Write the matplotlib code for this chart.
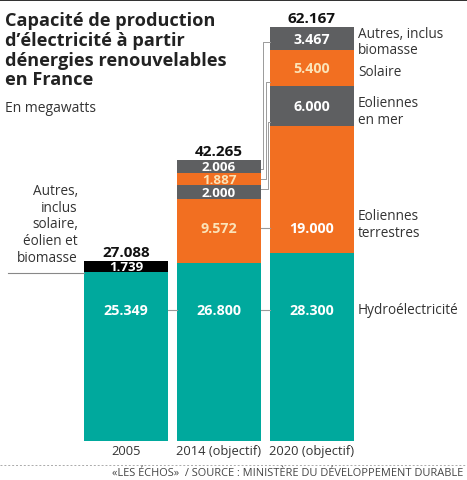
import matplotlib
matplotlib.use("Agg")
import matplotlib.pyplot as plt
from matplotlib.lines import Line2D
from matplotlib.patches import Rectangle

plt.rcParams['font.family'] = ['Open Sans', 'DejaVu Sans']

# data (MW)
years = ["2005", "2014 (objectif)", "2020 (objectif)"]
hydro = [25349, 26800, 28300]
autres_2005 = [1739, 0, 0]
eol_terre = [0, 9572, 19000]
eol_mer = [0, 2000, 6000]
solaire = [0, 1887, 5400]
autres = [0, 2006, 3467]
totals = ["27.088", "42.265", "62.167"]

TEAL = "#00a99d"
ORANGE = "#f26f21"
GREY = "#5e5f61"
BLACK = "#000000"
CREAM = "#fbe3b8"

W, H = 467, 481
fig = plt.figure(figsize=(W / 100, H / 100), dpi=100)

# axes placed in pixel units: bars from x=84 to x=354, baseline at y=442, top at y=28
ax = fig.add_axes([84 / W, (H - 442) / H, 270 / W, 414 / H])
ymax = sum(v[2] for v in [hydro, eol_terre, eol_mer, solaire, autres])
ax.set_ylim(0, ymax)
bw = 84 / 93
ax.set_xlim(-bw / 2, 2 + bw / 2)
ax.axis("off")
px = ymax / 414  # data units per pixel


def fmt(v):
    return f"{v:,}".replace(",", ".")


x = [0, 1, 2]
stack = [hydro, autres_2005, eol_terre, eol_mer, solaire, autres]
colors = [TEAL, BLACK, ORANGE, GREY, ORANGE, GREY]
txtcol = ["white", "white", None, "white", CREAM, "white"]
y_hydro = (442 - 311) * px
y_terre = (442 - 229) * px
bottoms = [0, 0, 0]
seg = {}
for k, (vals, c) in enumerate(zip(stack, colors)):
    ax.bar(x, vals, bottom=bottoms, width=bw, color=c, linewidth=0)
    for i, v in enumerate(vals):
        if v == 0:
            continue
        mid = bottoms[i] + v / 2
        seg[(k, i)] = (bottoms[i], bottoms[i] + v)
        tc = txtcol[k]
        if k == 0:
            mid = y_hydro
        if k == 2:
            tc = CREAM if i == 1 else "white"
            mid = y_terre
        fs = 10.3 if v > 3000 else 9.6
        ax.text(i, mid, fmt(v), ha="center", va="center", color=tc,
                fontsize=fs, fontweight="bold")
    bottoms = [b + v for b, v in zip(bottoms, vals)]

# totals above bars
for i, t in enumerate(totals):
    ax.text(i, bottoms[i] + 300, t, ha="center", va="bottom", fontsize=11,
            fontweight="bold", color="#111111", clip_on=False)

# horizontal connectors across gaps
lc = "#9a9a9a"
for i in range(2):
    ax.plot([i + bw / 2, i + 1 - bw / 2], [y_hydro] * 2,
            color=lc, lw=0.8, clip_on=False)
ax.plot([1 + bw / 2, 2 - bw / 2], [y_terre] * 2, color=lc, lw=0.8, clip_on=False)

# bracket connectors between 2014 small segments and 2020 segments
gap = 1 - bw
for k, frac_x, f14, f20 in [(5, 0.2, 0.3, 0.35), (4, 0.5, 0.5, 0.12), (3, 0.8, 0.7, 0.1)]:
    lo14, hi14 = seg[(k, 1)]
    lo20, hi20 = seg[(k, 2)]
    y14 = lo14 + (hi14 - lo14) * f14
    y20 = lo20 + (hi20 - lo20) * f20
    xm = 1 + bw / 2 + gap * frac_x
    ax.plot([1 + bw / 2, xm, xm, 2 - bw / 2], [y14, y14, y20, y20],
            color=lc, lw=0.7, clip_on=False)

# right-hand labels
xr = 2 + bw / 2 + 4 / 93
right_labels = [
    (5, "Autres, inclus\nbiomasse", None),
    (4, "Solaire", None),
    (3, "Eoliennes\nen mer", (442 - 112) * px),
    (2, "Eoliennes\nterrestres", (442 - 225) * px),
    (0, "Hydroélectricité", y_hydro),
]
for k, lab, yy in right_labels:
    lo, hi = seg[(k, 2)]
    if yy is None:
        yy = (lo + hi) / 2 - 3 * px
    ax.text(xr, yy, lab, ha="left", va="center", fontsize=9.8,
            color="#333333", linespacing=1.15, clip_on=False)

# left label for 2005 others
ax.text(-bw / 2 - 6 / 93, seg[(1, 0)][1] - 4 * px,
        "Autres,\ninclus\nsolaire,\néolien et\nbiomasse", ha="right", va="bottom",
        fontsize=9.8, color="#333333", linespacing=1.15, clip_on=False)
ax.plot([-bw / 2 - 76 / 93, -bw / 2], [seg[(1, 0)][1] - 12 * px] * 2,
        color="#888888", lw=0.8, clip_on=False)

# year labels
for i, yr in enumerate(years):
    ax.text(i, -3 * px, yr, ha="center", va="top", fontsize=9.3, color="#333333",
            clip_on=False)

# title block
fig.add_artist(Rectangle((0, 1 - 2 / H), 1, 2 / H, transform=fig.transFigure,
                         color="#333333", lw=0))
fig.text(5 / W, 1 - 12 / H, "Capacité de production\nd\u2019électricité à partir\n"
         "dénergies renouvelables\nen France", ha="left", va="top",
         fontsize=13.1, fontweight="bold", color="#222222", linespacing=1.13)
fig.text(5 / W, 1 - 108 / H, "En megawatts", ha="left", va="center",
         fontsize=10, color="#333333")

# footer
fig.add_artist(Line2D([0, 1], [1 - 466 / H] * 2, transform=fig.transFigure,
                      color="#aaaaaa", lw=0.7, ls=(0, (2, 2))))
fig.text(463 / W, 1 - 474 / H,
         "\u00abLES ÉCHOS\u00bb  / SOURCE : MINISTÈRE DU DÉVELOPPEMENT DURABLE",
         ha="right", va="center", fontsize=7.9, color="#444444")

fig.savefig("out.png", dpi=100)
